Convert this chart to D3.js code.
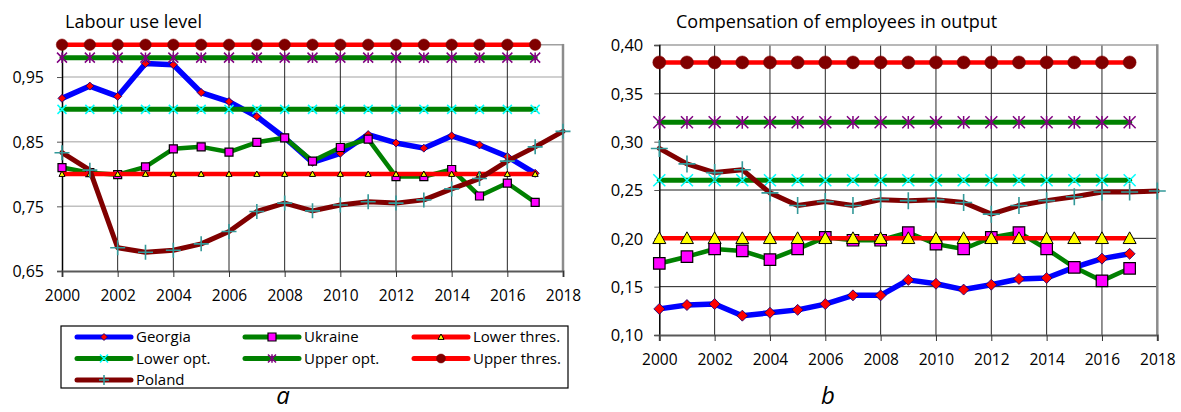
<!DOCTYPE html>
<html><head><meta charset="utf-8">
<script src="https://cdn.jsdelivr.net/npm/d3@7"></script>
<style>
body{margin:0;background:#fff}
svg{display:block}
text{font-family:"Open Sans",sans-serif;fill:#000}
</style>
</head><body>
<svg id="c" width="1181" height="412"></svg>
<script>
// ---------- DATA ----------
const yearsAll = [2000,2001,2002,2003,2004,2005,2006,2007,2008,2009,2010,2011,2012,2013,2014,2015,2016,2017,2018];
const yearsMain = [2000,2001,2002,2003,2004,2005,2006,2007,2008,2009,2010,2011,2012,2013,2014,2015,2016,2017];
const xTickYears = [2000,2002,2004,2006,2008,2010,2012,2014,2016,2018];
const yTicksA = [0.65,0.75,0.85,0.95];
const yTicksB = [0.10,0.15,0.20,0.25,0.30,0.35,0.40];
const legendNames = ["Georgia","Ukraine","Lower thres.","Lower opt.","Upper opt.","Upper thres.","Poland"];

// Chart a: Labour use level
const georgiaA = [0.917,0.936,0.920,0.971,0.969,0.926,0.912,0.889,0.856,0.818,0.832,0.861,0.848,0.840,0.859,0.845,0.827,0.801];
const ukraineA = [0.810,0.802,0.799,0.811,0.839,0.842,0.834,0.849,0.856,0.820,0.841,0.854,0.796,0.796,0.807,0.766,0.786,0.756];
const polandA  = [0.833,0.806,0.686,0.679,0.682,0.692,0.711,0.742,0.755,0.743,0.752,0.757,0.755,0.760,0.777,0.793,0.820,0.842,0.866];
const lowerThresA = 0.80, lowerOptA = 0.90, upperOptA = 0.98, upperThresA = 1.00;

// Chart b: Compensation of employees in output
const georgiaB = [0.127,0.131,0.132,0.120,0.123,0.126,0.132,0.141,0.141,0.157,0.153,0.147,0.152,0.158,0.159,0.170,0.179,0.184];
const ukraineB = [0.174,0.181,0.189,0.187,0.178,0.189,0.201,0.198,0.198,0.206,0.194,0.189,0.201,0.206,0.189,0.170,0.156,0.169];
const polandB  = [0.293,0.277,0.268,0.271,0.247,0.234,0.238,0.234,0.240,0.239,0.240,0.237,0.225,0.234,0.239,0.243,0.248,0.248,0.249];
const lowerThresB = 0.20, lowerOptB = 0.26, upperOptB = 0.32, upperThresB = 0.382;

// ---------- DRAWING ----------
const svg = d3.select("#c");

function markerPath(type, s){
  const h = s/2;
  switch(type){
    case "x": return `M${-h},${-h}L${h},${h}M${-h},${h}L${h},${-h}`;
    case "ast": return `M${-h},${-h}L${h},${h}M${-h},${h}L${h},${-h}M0,${-h*1.05}L0,${h*1.05}`;
    case "plus": return `M${-h},0L${h},0M0,${-h}L0,${h}`;
    case "diamond": return `M0,${-h}L${h},0L0,${h}L${-h},0Z`;
    case "square": return `M${-h},${-h}L${h},${-h}L${h},${h}L${-h},${h}Z`;
    case "tri": return `M0,${-h}L${h},${h*0.8}L${-h},${h*0.8}Z`;
    case "circle": return `M${h},0A${h},${h} 0 1,1 ${-h},0A${h},${h} 0 1,1 ${h},0Z`;
  }
}

function styles(sz){
  return [
    {key:"Georgia", line:"#0000ff", lw:5.5, m:"diamond", fill:"#ff0000", stroke:"#000080", sw:0.8, ms:sz.dia},
    {key:"Ukraine", line:"#008000", lw:4.5, m:"square", fill:"#ff00ff", stroke:"#000000", sw:1.2, ms:sz.sq},
    {key:"Lower thres.", line:"#ff0000", lw:4.5, m:"tri", fill:"#ffff00", stroke:"#000000", sw:1, ms:sz.tri},
    {key:"Lower opt.", line:"#008000", lw:5, m:"x", fill:"none", stroke:"#00ffff", sw:1.5, ms:sz.x},
    {key:"Upper opt.", line:"#008000", lw:5, m:"ast", fill:"none", stroke:"#800080", sw:1.5, ms:sz.ast},
    {key:"Upper thres.", line:"#ff0000", lw:4.5, m:"circle", fill:"#800000", stroke:"#800000", sw:0.5, ms:sz.cir},
    {key:"Poland", line:"#800000", lw:5, m:"plus", fill:"none", stroke:"#339999", sw:1.6, ms:sz.plus}
  ];
}

function drawChart(cfg){
  const g = svg.append("g");
  const x = d3.scaleLinear().domain([2000,2018]).range([cfg.x0,cfg.x1]);
  const y = d3.scaleLinear().domain(cfg.ydom).range([cfg.y0,cfg.y1]);

  g.selectAll(".hg").data(cfg.hgrid).join("line")
    .attr("x1",cfg.x0).attr("x2",cfg.x1).attr("y1",d=>y(d)).attr("y2",d=>y(d))
    .attr("stroke",cfg.hcol).attr("stroke-width",cfg.hw);
  g.selectAll(".vg").data(xTickYears.slice(1,-1)).join("line")
    .attr("x1",d=>x(d)).attr("x2",d=>x(d)).attr("y1",cfg.y0).attr("y2",cfg.y1)
    .attr("stroke","#262626").attr("stroke-width",1);
  g.append("line").attr("x1",cfg.x0).attr("x2",cfg.x1).attr("y1",cfg.y1).attr("y2",cfg.y1)
    .attr("stroke","#a0a0a0").attr("stroke-width",1.5);
  g.append("line").attr("x1",cfg.x1).attr("x2",cfg.x1).attr("y1",cfg.y1-0.75).attr("y2",cfg.y0)
    .attr("stroke","#8c8c8c").attr("stroke-width",2.5);

  const ya = d3.axisLeft(y).tickValues(cfg.yticks).tickSize(5).tickPadding(cfg.ypad)
    .tickFormat(d=>d3.format(".2f")(d).replace(".",","));
  const yg = g.append("g").attr("transform",`translate(${cfg.x0},0)`).call(ya);
  yg.select(".domain").attr("stroke","#000").attr("stroke-width",1.5);
  yg.selectAll(".tick line").attr("stroke","#555");
  yg.selectAll("text").style("font-size",cfg.yfs+"px").attr("dy","0.36em");

  const xa = d3.axisBottom(x).tickValues(xTickYears).tickSize(6).tickPadding(13).tickFormat(d3.format("d"));
  const xg = g.append("g").attr("transform",`translate(0,${cfg.y0})`).call(xa);
  xg.select(".domain").attr("stroke","#595959").attr("stroke-width",2);
  xg.selectAll(".tick line").attr("stroke","#333");
  xg.selectAll("text").style("font-size","15.5px");

  g.append("text").attr("x",cfg.tx).attr("y",28).style("font-size","18px").text(cfg.title);

  const st = styles(cfg.sz);
  st.forEach((s,i)=>{
    const sd = cfg.series[i];
    const pts = sd.years.map((yr,j)=>[yr, Array.isArray(sd.vals)? sd.vals[j] : sd.vals]);
    const line = d3.line().x(d=>x(d[0])).y(d=>y(d[1]));
    g.append("path").attr("d",line(pts)).attr("fill","none").attr("stroke",s.line)
      .attr("stroke-width",s.lw).attr("stroke-linejoin","round").attr("stroke-linecap","round");
    g.selectAll(null).data(pts).join("path")
      .attr("transform",d=>`translate(${x(d[0])},${y(d[1])})`)
      .attr("d",markerPath(s.m,s.ms))
      .attr("fill",s.fill).attr("stroke",s.stroke).attr("stroke-width",s.sw);
  });
}

drawChart({
  x0:62, x1:563, y0:271, y1:44.7, ydom:[0.65,1.0],
  hgrid:[0.75,0.85,0.95], hcol:"#c0c0c0", hw:1.5,
  yticks:yTicksA, ypad:13, yfs:16, tx:65, title:"Labour use level",
  sz:{dia:8, sq:8, tri:6, x:9, ast:10, cir:11.5, plus:15},
  series:[
    {years:yearsMain, vals:georgiaA},
    {years:yearsMain, vals:ukraineA},
    {years:yearsMain, vals:lowerThresA},
    {years:yearsMain, vals:lowerOptA},
    {years:yearsMain, vals:upperOptA},
    {years:yearsMain, vals:upperThresA},
    {years:yearsAll, vals:polandA}
  ]
});

drawChart({
  x0:659.3, x1:1157.3, y0:335, y1:45, ydom:[0.10,0.40],
  hgrid:[0.15,0.20,0.25,0.30,0.35], hcol:"#1a1a1a", hw:1,
  yticks:yTicksB, ypad:11, yfs:16.5, tx:676, title:"Compensation of employees in output",
  sz:{dia:11, sq:11.5, tri:13, x:12, ast:12, cir:13, plus:17},
  series:[
    {years:yearsMain, vals:georgiaB},
    {years:yearsMain, vals:ukraineB},
    {years:yearsMain, vals:lowerThresB},
    {years:yearsMain, vals:lowerOptB},
    {years:yearsMain, vals:upperOptB},
    {years:yearsMain, vals:upperThresB},
    {years:yearsAll, vals:polandB}
  ]
});

// legend
const lg = svg.append("g");
lg.append("rect").attr("x",61).attr("y",326).attr("width",507).attr("height",62)
  .attr("fill","#fff").attr("stroke","#000").attr("stroke-width",1.2);
const colX = [77,245,414];
const rowY = [337,358.5,380];
const legStyles = styles({dia:7, sq:8, tri:6, x:8, ast:8, cir:9, plus:10});
legendNames.forEach((n,i)=>{
  const s = legStyles[i];
  const cx = colX[i%3], cy = rowY[Math.floor(i/3)];
  lg.append("line").attr("x1",cx).attr("x2",cx+54).attr("y1",cy).attr("y2",cy)
    .attr("stroke",s.line).attr("stroke-width",5).attr("stroke-linecap","round");
  lg.append("path").attr("transform",`translate(${cx+27},${cy})`).attr("d",markerPath(s.m,s.ms))
    .attr("fill",s.fill).attr("stroke",s.stroke).attr("stroke-width",s.sw);
  lg.append("text").attr("x",cx+59).attr("y",cy).attr("dy","0.36em").style("font-size","15px").text(n);
});

// captions
svg.append("text").attr("x",283).attr("y",404).attr("text-anchor","middle")
  .style("font-size","24px").style("font-style","italic").text("a");
svg.append("text").attr("x",828).attr("y",404).attr("text-anchor","middle")
  .style("font-size","24px").style("font-style","italic").text("b");
</script>
</body></html>
